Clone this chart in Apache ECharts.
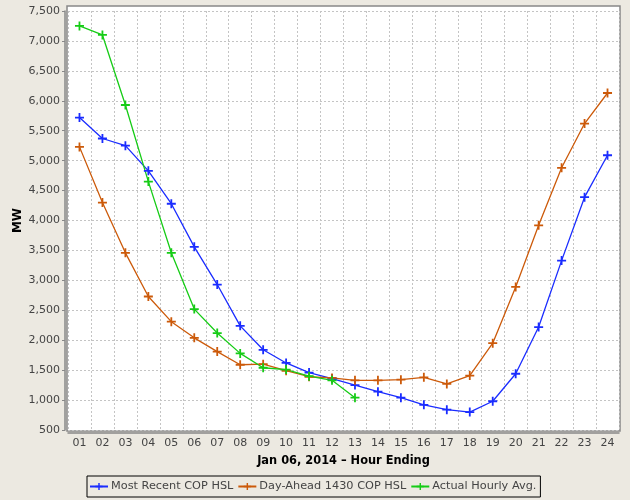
<!DOCTYPE html>
<html>
<head>
<meta charset="utf-8">
<script src="https://cdn.jsdelivr.net/npm/echarts@6/dist/echarts.min.js"></script>
<style>
  html, body { margin: 0; padding: 0; background: #ECE9E1; }
  #chart { width: 630px; height: 500px; }
</style>
</head>
<body>
<div id="chart"></div>
<script>
// hour ending labels
var hours = ['01','02','03','04','05','06','07','08','09','10','11','12',
             '13','14','15','16','17','18','19','20','21','22','23','24'];
var mostRecent = [5720, 5370, 5250, 4830, 4280, 3560, 2930, 2240, 1840, 1620, 1460, 1360,
                  1250, 1140, 1040, 920, 840, 800, 980, 1440, 2220, 3330, 4390, 5090];
var dayAhead = [5230, 4300, 3460, 2730, 2310, 2040, 1810, 1590, 1600, 1490, 1390, 1370,
                1330, 1330, 1340, 1380, 1270, 1410, 1950, 2890, 3920, 4880, 5620, 6130];
var actual = [7250, 7100, 5930, 4650, 3460, 2520, 2120, 1780, 1540, 1510, 1400, 1330,
              1040, null, null, null, null, null, null, null, null, null, null, null];
var yTicks = { min: 500, max: 7500, step: 500 };

var plus = 'path://M4,0H6V4H10V6H6V10H4V6H0V4H4Z';
var font = 'DejaVu Sans';

function line(name, data, color) {
  return {
    name: name,
    type: 'line',
    data: data,
    symbol: plus,
    symbolSize: 9,
    showAllSymbol: true,
    connectNulls: false,
    lineStyle: { color: color, width: 1.3 },
    itemStyle: { color: color },
    emphasis: { disabled: true }
  };
}

var chart = echarts.init(document.getElementById('chart'));
chart.setOption({
  backgroundColor: '#ECE9E1',
  animation: false,
  textStyle: { fontFamily: font },
  graphic: [
    { type: 'rect', z: -10, silent: true,
      shape: { x: 67, y: 6, width: 553, height: 425 },
      style: { fill: '#ffffff', stroke: '#888888', lineWidth: 1.5 } }
  ],
  grid: { left: 68, right: 11, top: 11, bottom: 70 },
  legend: {
    left: 87, top: 476,
    padding: [5, 4, 5, 2],
    itemGap: 4,
    itemWidth: 18, itemHeight: 9,
    borderColor: '#000', borderWidth: 1,
    textStyle: { fontFamily: font, fontSize: 11.3, color: '#444', padding: [0, 0, 0, -2] },
    data: ['Most Recent COP HSL', 'Day-Ahead 1430 COP HSL', 'Actual Hourly Avg.']
  },
  xAxis: {
    type: 'category',
    data: hours,
    boundaryGap: true,
    offset: 3,
    name: 'Jan 06, 2014 \u2013 Hour Ending',
    nameLocation: 'middle',
    nameGap: 23,
    nameTextStyle: { fontFamily: font, fontSize: 11.4, fontWeight: 'bold', color: '#000' },
    axisLine: { lineStyle: { color: '#888', width: 1.5 } },
    axisTick: { alignWithLabel: true, length: 3, lineStyle: { color: '#888' } },
    axisLabel: { fontSize: 11, color: '#444', margin: 5, interval: 0 },
    splitLine: { show: true, interval: 0, lineStyle: { color: '#c4c4c4', type: [2, 2] } }
  },
  yAxis: {
    type: 'value',
    min: yTicks.min, max: yTicks.max, interval: yTicks.step,
    offset: 3,
    name: 'MW',
    nameLocation: 'middle',
    nameGap: 41,
    nameMoveOverlap: false,
    nameTextStyle: { fontFamily: font, fontSize: 12, fontWeight: 'bold', color: '#000' },
    axisLine: { show: true, lineStyle: { color: '#888', width: 1.5 } },
    axisTick: { show: true, length: 3, lineStyle: { color: '#888' } },
    axisLabel: {
      fontSize: 11, color: '#444', margin: 5,
      formatter: function (v) { return v.toLocaleString('en-US'); }
    },
    splitLine: { show: true, lineStyle: { color: '#c4c4c4', type: [2, 2] } }
  },
  series: [
    line('Most Recent COP HSL', mostRecent, '#1a2cff'),
    line('Day-Ahead 1430 COP HSL', dayAhead, '#cc5a0a'),
    line('Actual Hourly Avg.', actual, '#16cc16')
  ]
});
</script>
</body>
</html>
